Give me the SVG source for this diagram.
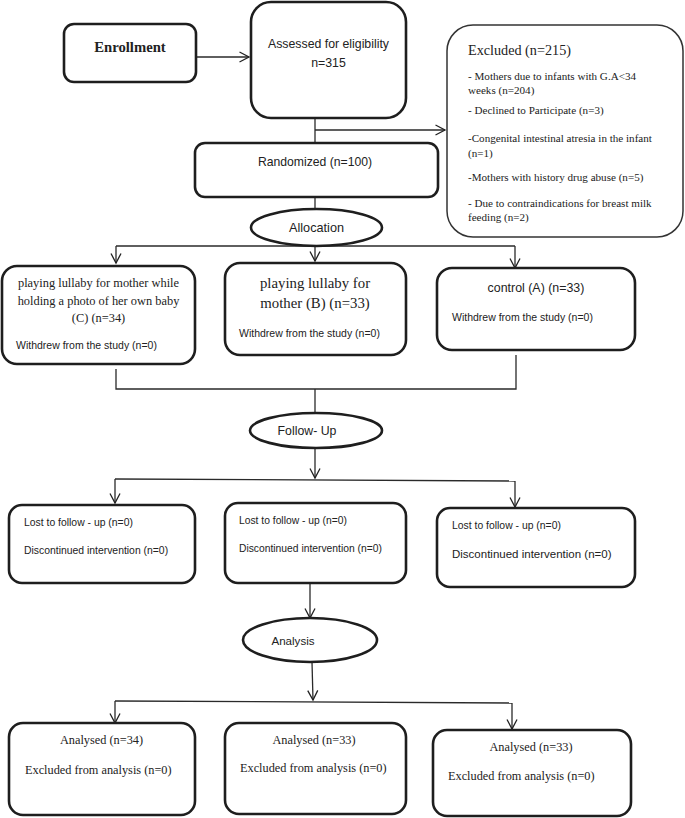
<svg xmlns="http://www.w3.org/2000/svg" width="685" height="818" viewBox="0 0 685 818">
<defs>
<marker id="arr" markerUnits="userSpaceOnUse" markerWidth="14" markerHeight="14" refX="11" refY="7" orient="auto">
<path d="M1.5,2 L11,7 L1.5,12" fill="none" stroke="#222" stroke-width="1.3"/>
</marker>
<style>
.box{fill:#fff;stroke:#1e1e1e;stroke-width:2.6}
.ex{fill:#fff;stroke:#333;stroke-width:1.5}
.ell{fill:#fff;stroke:#1e1e1e;stroke-width:2.6}
.ln{fill:none;stroke:#2a2a2a;stroke-width:1.3}
.sf{font-family:"Liberation Serif","Times New Roman",serif;fill:#222}
.ss{font-family:"Liberation Sans",Arial,sans-serif;fill:#222}
</style>
</defs>
<rect width="685" height="818" fill="#fff"/>

<g id="connectors">
<line class="ln" x1="196" y1="57" x2="249" y2="57" marker-end="url(#arr)"/>
<line class="ln" x1="315" y1="118" x2="315" y2="143"/>
<line class="ln" x1="315" y1="130" x2="445" y2="130" marker-end="url(#arr)"/>
<line class="ln" x1="315" y1="197" x2="315" y2="210"/>
<line class="ln" x1="116" y1="246" x2="515" y2="246"/>
<line class="ln" x1="116" y1="246" x2="116" y2="263" marker-end="url(#arr)"/>
<line class="ln" x1="315" y1="246" x2="315" y2="261" marker-end="url(#arr)"/>
<line class="ln" x1="515" y1="246" x2="515" y2="268" marker-end="url(#arr)"/>
<polyline class="ln" points="116,369 116,389 516,389 516,355"/>
<line class="ln" x1="315" y1="389" x2="315" y2="413"/>
<line class="ln" x1="315" y1="448" x2="315" y2="478" marker-end="url(#arr)"/>
<line class="ln" x1="115" y1="479" x2="515" y2="481"/>
<line class="ln" x1="115" y1="479" x2="115" y2="503" marker-end="url(#arr)"/>
<line class="ln" x1="515" y1="481" x2="515" y2="507" marker-end="url(#arr)"/>
<line class="ln" x1="310" y1="583" x2="310" y2="618" marker-end="url(#arr)"/>
<line class="ln" x1="312" y1="662" x2="313" y2="700" marker-end="url(#arr)"/>
<line class="ln" x1="115" y1="701" x2="512" y2="703"/>
<line class="ln" x1="115" y1="701" x2="115" y2="723" marker-end="url(#arr)"/>
<line class="ln" x1="512" y1="703" x2="512" y2="729" marker-end="url(#arr)"/>
</g>

<g id="enrollment">
<rect class="box" x="64" y="24" width="132" height="58" rx="10"/>
<text class="sf" x="130" y="52" font-size="14.7" font-weight="bold" text-anchor="middle">Enrollment</text>
</g>

<g id="assessed">
<rect class="box" x="251" y="2" width="155" height="116" rx="20"/>
<text class="ss" x="328.5" y="48" font-size="12.3" text-anchor="middle">Assessed for eligibility</text>
<text class="ss" x="328.5" y="67" font-size="12.3" text-anchor="middle">n=315</text>
</g>

<g id="excluded">
<rect class="ex" x="447" y="25" width="236" height="212" rx="26"/>
<text class="sf" x="468" y="55" font-size="14.2">Excluded (n=215)</text>
<text class="sf" x="468" y="80" font-size="11.1">- Mothers due to infants with G.A&lt;34</text>
<text class="sf" x="468" y="94" font-size="11.1">weeks (n=204)</text>
<text class="sf" x="468" y="114" font-size="11.1">- Declined to Participate (n=3)</text>
<text class="sf" x="468" y="142" font-size="11.1">-Congenital intestinal atresia in the infant</text>
<text class="sf" x="468" y="157" font-size="11.1">(n=1)</text>
<text class="sf" x="468" y="181" font-size="11.1">-Mothers with history drug abuse (n=5)</text>
<text class="sf" x="468" y="207" font-size="11.1">- Due to contraindications for breast milk</text>
<text class="sf" x="468" y="221" font-size="11.1">feeding (n=2)</text>
</g>

<g id="randomized">
<rect class="box" x="195" y="143" width="243" height="54" rx="10"/>
<text class="ss" x="315" y="166" font-size="12.2" text-anchor="middle">Randomized (n=100)</text>
</g>

<g id="allocation">
<ellipse class="ell" cx="316.5" cy="227.5" rx="65.5" ry="18.5"/>
<text class="ss" x="316.5" y="232" font-size="12.7" text-anchor="middle">Allocation</text>
</g>

<g id="group-c">
<rect class="box" x="2" y="266" width="193" height="98" rx="15"/>
<text class="sf" x="98.5" y="287" font-size="12.4" text-anchor="middle">playing lullaby for mother while</text>
<text class="sf" x="98.5" y="305" font-size="12.4" text-anchor="middle">holding a photo of her own baby</text>
<text class="sf" x="98.5" y="322" font-size="12.4" text-anchor="middle">(C) (n=34)</text>
<text class="ss" x="16" y="349" font-size="10.5">Withdrew from the study (n=0)</text>
</g>

<g id="group-b">
<rect class="box" x="225" y="263" width="181" height="92" rx="15"/>
<text class="sf" x="315" y="288" font-size="14.8" text-anchor="middle">playing lullaby for</text>
<text class="sf" x="315" y="308" font-size="14.8" text-anchor="middle">mother (B) (n=33)</text>
<text class="ss" x="239" y="337" font-size="10.5">Withdrew from the study (n=0)</text>
</g>

<g id="group-a">
<rect class="box" x="437" y="268" width="198" height="82" rx="15"/>
<text class="ss" x="536" y="292" font-size="12.4" text-anchor="middle">control (A) (n=33)</text>
<text class="ss" x="452" y="321" font-size="10.5">Withdrew from the study (n=0)</text>
</g>

<g id="follow-up">
<ellipse class="ell" cx="316" cy="430.5" rx="66" ry="17.5"/>
<text class="ss" x="307" y="435" font-size="12.3" text-anchor="middle">Follow- Up</text>
</g>

<g id="follow-c">
<rect class="box" x="9" y="505" width="186" height="78" rx="13"/>
<text class="ss" x="24" y="526" font-size="10.4">Lost to follow - up (n=0)</text>
<text class="ss" x="24" y="554" font-size="10.4">Discontinued intervention (n=0)</text>
</g>

<g id="follow-b">
<rect class="box" x="225" y="503" width="181" height="80" rx="13"/>
<text class="ss" x="239" y="524" font-size="10.3">Lost to follow - up (n=0)</text>
<text class="ss" x="239" y="552" font-size="10.3">Discontinued intervention (n=0)</text>
</g>

<g id="follow-a">
<rect class="box" x="437" y="508" width="198" height="79" rx="13"/>
<text class="ss" x="452" y="529" font-size="10.4">Lost to follow - up (n=0)</text>
<text class="ss" x="452" y="558" font-size="11.5">Discontinued intervention (n=0)</text>
</g>

<g id="analysis">
<ellipse class="ell" cx="310" cy="640" rx="67" ry="22"/>
<text class="ss" x="293" y="645" font-size="11.6" text-anchor="middle">Analysis</text>
</g>

<g id="analysed-c">
<rect class="box" x="9" y="723" width="186" height="92" rx="14"/>
<text class="sf" x="101.5" y="744" font-size="12.3" text-anchor="middle">Analysed (n=34)</text>
<text class="sf" x="25" y="774" font-size="12.3">Excluded from analysis (n=0)</text>
</g>

<g id="analysed-b">
<rect class="box" x="225" y="723" width="181" height="91" rx="14"/>
<text class="sf" x="314" y="744" font-size="12.3" text-anchor="middle">Analysed (n=33)</text>
<text class="sf" x="240" y="772" font-size="12.3">Excluded from analysis (n=0)</text>
</g>

<g id="analysed-a">
<rect class="box" x="433" y="730" width="198" height="86" rx="14"/>
<text class="sf" x="531" y="751" font-size="12.3" text-anchor="middle">Analysed (n=33)</text>
<text class="sf" x="448" y="780" font-size="12.3">Excluded from analysis (n=0)</text>
</g>
</svg>
